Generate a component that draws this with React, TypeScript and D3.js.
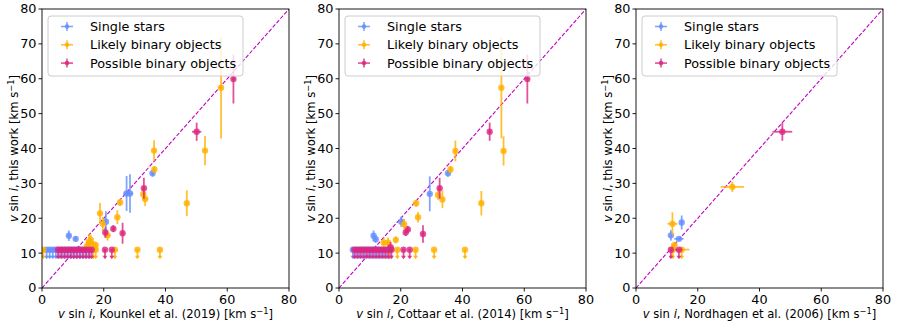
import * as d3 from "d3";

const SINGLE = "#648FFF";
const LIKELY = "#FFB000";
const POSSIBLE = "#DC267F";

// detections: [x, y, xerr, yerr]; upper limits: [x, xerr] at y = LIM_Y
const LIM_Y = 11;
const LIM_LEN = 2.4;

const kounkelSingle = [
  [8.7, 15.0, 0.5, 1.5], [10.9, 14.1, 0.5, 0.8], [20.7, 19.0, 0.5, 3],
  [27.4, 27.1, 1, 5], [28.5, 27.1, 1, 5.5], [35.8, 32.9, 0.5, 1],
];
const kounkelSingleLim = [
  [1.5, 0.6], [2.5, 0.6], [3.5, 0.6], [4.5, 0.6], [5.5, 0.6], [6.5, 0.6], [7.5, 0.6],
  [8.5, 0.6], [9.5, 0.6], [10.5, 0.6], [11.5, 0.6], [12.5, 0.6], [13.5, 0.6], [14.5, 0.6], [15.5, 0.6],
];
const kounkelLikely = [
  [36.3, 39.4, 0.5, 3], [52.8, 39.4, 0.5, 4.2], [58.0, 57.4, 0.5, 14.5], [36.4, 34.0, 0.5, 1],
  [32.8, 26.9, 0.5, 1.5], [33.4, 25.5, 1, 2], [25.3, 24.5, 0.5, 1], [24.4, 20.3, 0.5, 2],
  [18.8, 21.4, 0.5, 3], [19.7, 18.4, 0.5, 2], [21.2, 15.1, 1, 1.5], [46.9, 24.3, 0.5, 3.7],
  [14.5, 12.0, 0.5, 2], [15.2, 13.0, 0.5, 2.5], [15.8, 13.8, 0.5, 1.5], [16.5, 12.5, 0.5, 1],
  [17.4, 12.3, 0.5, 1],
];
const kounkelLikelyLim = [[0.4, 0.5], [16.6, 0.5], [17.4, 0.5], [23.6, 0.5], [30.9, 0.5], [38.2, 0.5]];
const kounkelPossible = [
  [50.1, 44.8, 1.5, 2.6], [62.0, 59.9, 0.5, 7], [33.0, 28.6, 0.5, 3],
  [20.5, 15.9, 0.5, 1.5], [23.1, 17.0, 0.5, 1], [26.1, 15.7, 0.5, 3],
];
const kounkelPossibleLim = [
  [5.2, 0.6], [6.2, 0.6], [7.2, 0.6], [8.2, 0.6], [9.2, 0.6], [10.2, 0.6], [11.2, 0.6],
  [12.2, 0.6], [13.2, 0.6], [14.2, 0.6], [15.2, 0.6], [16.1, 0.6], [20.4, 0.5], [22.6, 0.5],
];

const cottaarSingle = [
  [11.2, 15.0, 0.5, 1.5], [11.9, 14.0, 0.5, 1], [20.2, 19.0, 0.5, 1.5],
  [29.4, 27.0, 0.5, 5], [35.3, 32.9, 0.5, 1],
];
const cottaarSingleLim = [
  [4.5, 0.6], [5.5, 0.6], [6.5, 0.6], [7.5, 0.6], [8.5, 0.6], [9.5, 0.6], [10.5, 0.6],
  [11.5, 0.6], [12.5, 0.6], [13.5, 0.6], [14.5, 0.6], [15.5, 0.6], [16.5, 0.6],
];
const cottaarLikely = [
  [52.6, 57.4, 0.5, 14.5], [53.3, 39.3, 0.5, 4.2], [37.7, 39.3, 0.5, 3], [36.1, 34.0, 0.5, 1],
  [32.1, 26.7, 0.5, 1.5], [33.5, 25.4, 0.5, 2.5], [25.0, 24.3, 0.5, 1], [46.1, 24.3, 0.5, 3.5],
  [25.6, 20.3, 0.5, 1.5], [21.1, 18.3, 0.5, 1.5], [14.5, 13.0, 0.5, 1.5], [15.9, 13.0, 0.5, 1.5],
  [18.4, 13.8, 0.5, 1],
];
const cottaarLikelyLim = [[16.2, 0.5], [18.9, 0.5], [24.8, 0.5], [30.8, 0.5], [40.8, 0.5]];
const cottaarPossible = [
  [61.0, 59.9, 0.5, 7], [48.8, 44.8, 0.5, 2.6], [32.6, 28.6, 0.5, 3],
  [21.6, 15.9, 0.5, 1], [22.3, 16.8, 0.5, 1], [27.2, 15.5, 0.5, 2.5], [16.7, 11.7, 1, 1.5],
];
const cottaarPossibleLim = [
  [5.0, 0.6], [6.0, 0.6], [7.0, 0.6], [8.0, 0.6], [9.0, 0.6], [10.0, 0.6], [11.0, 0.6],
  [12.0, 0.6], [13.0, 0.6], [14.0, 0.6], [15.0, 0.6], [16.0, 0.6], [17.0, 0.6], [20.9, 0.5], [22.9, 0.5],
];

const nordhagenSingle = [[14.8, 18.8, 0.5, 2], [11.3, 15.1, 0.5, 1.5], [13.9, 14.1, 1.5, 0.5]];
const nordhagenSingleLim: number[][] = [];
const nordhagenLikely = [[31.2, 29.0, 3.8, 1.5], [11.8, 18.4, 1.6, 3.3], [12.4, 12.3, 1, 1]];
const nordhagenLikelyLim = [[11.9, 1], [14.8, 2.5]];
const nordhagenPossible = [[47.4, 44.8, 3.2, 2.6]];
const nordhagenPossibleLim = [[11.3, 0.5], [13.9, 1.2]];

const references = ["Kounkel et al. (2019)", "Cottaar et al. (2014)", "Nordhagen et al. (2006)"];
const legendLabels = ["Single stars", "Likely binary objects", "Possible binary objects"];
const colors = [SINGLE, LIKELY, POSSIBLE];
const xTicks = [0, 20, 40, 60, 80];
const yTicks = [0, 10, 20, 30, 40, 50, 60, 70, 80];

const panels = [
  { ref: references[0], det: [kounkelSingle, kounkelLikely, kounkelPossible], lim: [kounkelSingleLim, kounkelLikelyLim, kounkelPossibleLim] },
  { ref: references[1], det: [cottaarSingle, cottaarLikely, cottaarPossible], lim: [cottaarSingleLim, cottaarLikelyLim, cottaarPossibleLim] },
  { ref: references[2], det: [nordhagenSingle, nordhagenLikely, nordhagenPossible], lim: [nordhagenSingleLim, nordhagenLikelyLim, nordhagenPossibleLim] },
];

const W = 247;
const H = 279;
const TOP = 9;
const LEFTS = [42, 339, 636];
const FONT = "DejaVu Sans, sans-serif";
const FS = 12.8;
const LFS = 11.6; // axis label size
const OP = 0.8;
const LW = 1.8;

function Panel({ p, idx }: { p: any; idx: number }) {
  const x = d3.scaleLinear().domain([0, 80]).range([0, W]);
  const y = d3.scaleLinear().domain([0, 80]).range([H, 0]);
  const clipId = `clip${idx}`;
  const diag = d3.line<number>().x((d) => x(d)).y((d) => y(d))([0, 80]) || "";

  return (
    <g transform={`translate(${LEFTS[idx]},${TOP})`}>
      <defs>
        <clipPath id={clipId}>
          <rect x={0} y={0} width={W} height={H} />
        </clipPath>
      </defs>
      <g clipPath={`url(#${clipId})`}>
        <path d={diag} stroke="#BF00BF" strokeWidth={1.1} strokeDasharray="4,1.8" fill="none" />
        {p.det.map((group: number[][], gi: number) => (
          <g key={gi} stroke={colors[gi]} fill={colors[gi]}>
            {p.lim[gi].map((d: number[], i: number) => {
              const cx = x(d[0]);
              const cy = y(LIM_Y);
              const yb = y(LIM_Y - LIM_LEN);
              return (
                <g key={"l" + i}>
                  <line x1={x(d[0] - d[1])} x2={x(d[0] + d[1])} y1={cy} y2={cy} strokeWidth={LW} strokeOpacity={OP} />
                  <line x1={cx} x2={cx} y1={cy} y2={yb} strokeWidth={LW} strokeOpacity={OP} />
                  <path d={`M${cx - 2.6},${yb - 2.2}L${cx + 2.6},${yb - 2.2}L${cx},${yb + 1.2}Z`} stroke="none" fillOpacity={OP} />
                  <circle cx={cx} cy={cy} r={3.2} stroke="none" fillOpacity={OP} />
                </g>
              );
            })}
            {group.map((d: number[], i: number) => {
              const cx = x(d[0]);
              const cy = y(d[1]);
              return (
                <g key={"d" + i}>
                  <line x1={x(d[0] - d[2])} x2={x(d[0] + d[2])} y1={cy} y2={cy} strokeWidth={LW} strokeOpacity={OP} />
                  <line x1={cx} x2={cx} y1={y(d[1] - d[3])} y2={y(d[1] + d[3])} strokeWidth={LW} strokeOpacity={OP} />
                  <circle cx={cx} cy={cy} r={3.2} stroke="none" fillOpacity={OP} />
                </g>
              );
            })}
          </g>
        ))}
      </g>

      {/* legend */}
      <g>
        <rect x={6} y={7} width={195} height={60} rx={3} fill="#fff" fillOpacity={0.8} stroke="#ccc" strokeWidth={1} />
        {legendLabels.map((lab, i) => {
          const ly = 17.5 + i * 18.3;
          return (
            <g key={lab}>
              <g stroke={colors[i]} strokeWidth={1.6} strokeOpacity={OP}>
                <line x1={19} x2={31} y1={ly} y2={ly} />
                <line x1={25} x2={25} y1={ly - 4.5} y2={ly + 4.5} />
              </g>
              <circle cx={25} cy={ly} r={2.3} fill={colors[i]} fillOpacity={OP} />
              <text x={48} y={ly + 4.6} fontSize={FS} fontFamily={FONT} fill="#000">{lab}</text>
            </g>
          );
        })}
      </g>

      {/* frame */}
      <rect x={0} y={0} width={W} height={H} fill="none" stroke="#000" strokeWidth={0.9} />

      {/* x ticks */}
      {xTicks.map((t) => (
        <g key={"x" + t} transform={`translate(${x(t)},${H})`}>
          <line y1={0} y2={3.5} stroke="#000" strokeWidth={0.9} />
          <text y={15.5} textAnchor="middle" fontSize={FS} fontFamily={FONT}>{t}</text>
        </g>
      ))}
      {/* y ticks */}
      {yTicks.map((t) => (
        <g key={"y" + t} transform={`translate(0,${y(t)})`}>
          <line x1={0} x2={-3.5} stroke="#000" strokeWidth={0.9} />
          <text x={-5.5} dy="0.35em" textAnchor="end" fontSize={FS} fontFamily={FONT}>{t}</text>
        </g>
      ))}

      {/* x label */}
      <text x={W / 2} y={H + 30} textAnchor="middle" fontSize={LFS} fontFamily={FONT}>
        <tspan fontStyle="italic">v</tspan> sin <tspan fontStyle="italic">i</tspan>, {p.ref} [km s
        <tspan dy={-4.5} fontSize={8.3}>−1</tspan>
        <tspan dy={4.5}>]</tspan>
      </text>
      {/* y label */}
      <text transform={`translate(-24,${H / 2}) rotate(-90)`} textAnchor="middle" fontSize={LFS} fontFamily={FONT}>
        <tspan fontStyle="italic">v</tspan> sin <tspan fontStyle="italic">i</tspan>, this work [km s
        <tspan dy={-4.5} fontSize={8.3}>−1</tspan>
        <tspan dy={4.5}>]</tspan>
      </text>
    </g>
  );
}

export default function App() {
  return (
    <svg width={897} height={326} style={{ position: "absolute", left: 0, top: 0, background: "#fff" }}>
      {panels.map((p, i) => (
        <Panel key={i} p={p} idx={i} />
      ))}
    </svg>
  );
}
